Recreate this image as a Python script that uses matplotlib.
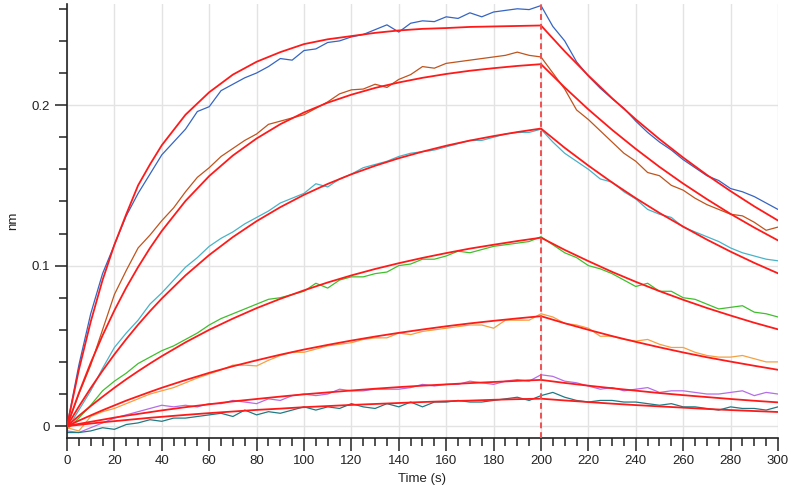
import matplotlib
matplotlib.use("Agg")
import matplotlib.pyplot as plt
from matplotlib.ticker import MultipleLocator

plt.rcParams["font.family"] = ["Liberation Sans Narrow", "Liberation Sans", "DejaVu Sans"]

# sampled time points (s)
time_data = list(range(0, 305, 5))
time_fit = [0, 5, 10, 15, 20, 25, 30, 35, 40] + list(range(50, 210, 10)) + list(range(210, 310, 10))

blue = [0.000, 0.038, 0.070, 0.095, 0.113, 0.131, 0.145, 0.157, 0.169, 0.177,
        0.185, 0.196, 0.199, 0.209, 0.213, 0.217, 0.220, 0.224, 0.229, 0.228,
        0.234, 0.235, 0.239, 0.240, 0.2425, 0.244, 0.247, 0.250, 0.2455, 0.251,
        0.2525, 0.252, 0.255, 0.254, 0.2575, 0.255, 0.258, 0.259, 0.260, 0.2595,
        0.262, 0.249, 0.240, 0.227, 0.218, 0.2105, 0.204, 0.198, 0.190, 0.183,
        0.177, 0.172, 0.166, 0.161, 0.156, 0.153, 0.148, 0.146, 0.143, 0.139,
        0.135]
brown = [0.000, 0.020, 0.038, 0.060, 0.082, 0.097, 0.111, 0.119, 0.128, 0.136,
         0.146, 0.155, 0.161, 0.168, 0.173, 0.178, 0.182, 0.188, 0.190, 0.192,
         0.194, 0.198, 0.202, 0.207, 0.2095, 0.210, 0.213, 0.211, 0.216, 0.219,
         0.224, 0.223, 0.226, 0.227, 0.228, 0.229, 0.230, 0.231, 0.233, 0.231,
         0.230, 0.220, 0.210, 0.197, 0.191, 0.184, 0.177, 0.170, 0.165, 0.158,
         0.156, 0.150, 0.147, 0.142, 0.138, 0.135, 0.132, 0.131, 0.127, 0.122,
         0.124]
cyan = [-0.002, 0.010, 0.022, 0.036, 0.049, 0.058, 0.066, 0.076, 0.083, 0.091,
        0.099, 0.105, 0.112, 0.117, 0.121, 0.126, 0.130, 0.134, 0.139, 0.142,
        0.145, 0.151, 0.149, 0.154, 0.157, 0.161, 0.163, 0.165, 0.168, 0.170,
        0.171, 0.172, 0.174, 0.176, 0.178, 0.178, 0.180, 0.182, 0.183, 0.183,
        0.185, 0.177, 0.170, 0.165, 0.160, 0.154, 0.152, 0.146, 0.1415, 0.135,
        0.132, 0.130, 0.124, 0.121, 0.118, 0.115, 0.111, 0.108, 0.106, 0.104,
        0.103]
green = [-0.002, 0.005, 0.013, 0.022, 0.028, 0.033, 0.039, 0.043, 0.047, 0.050,
         0.054, 0.058, 0.063, 0.067, 0.070, 0.073, 0.076, 0.079, 0.080, 0.082,
         0.084, 0.089, 0.086, 0.091, 0.093, 0.093, 0.095, 0.096, 0.100, 0.101,
         0.104, 0.104, 0.106, 0.109, 0.108, 0.110, 0.112, 0.113, 0.114, 0.115,
         0.118, 0.113, 0.108, 0.105, 0.100, 0.098, 0.095, 0.091, 0.087, 0.089,
         0.084, 0.084, 0.080, 0.079, 0.076, 0.073, 0.074, 0.075, 0.071, 0.070,
         0.068]
orange = [-0.001, -0.003, 0.006, 0.009, 0.011, 0.014, 0.017, 0.020, 0.022, 0.024,
          0.027, 0.030, 0.0325, 0.035, 0.038, 0.038, 0.0375, 0.041, 0.044, 0.046,
          0.046, 0.048, 0.050, 0.051, 0.052, 0.054, 0.055, 0.055, 0.058, 0.057,
          0.059, 0.060, 0.061, 0.062, 0.063, 0.063, 0.061, 0.066, 0.066, 0.066,
          0.070, 0.068, 0.064, 0.063, 0.061, 0.056, 0.056, 0.054, 0.053, 0.054,
          0.051, 0.049, 0.049, 0.046, 0.044, 0.043, 0.043, 0.044, 0.042, 0.040,
          0.040]
violet = [-0.003, -0.004, -0.001, 0.002, 0.005, 0.007, 0.009, 0.011, 0.013, 0.012,
          0.013, 0.012, 0.014, 0.014, 0.016, 0.015, 0.014, 0.017, 0.016, 0.019,
          0.020, 0.019, 0.020, 0.023, 0.022, 0.022, 0.023, 0.023, 0.023, 0.024,
          0.026, 0.025, 0.026, 0.026, 0.028, 0.027, 0.026, 0.028, 0.029, 0.028,
          0.032, 0.031, 0.028, 0.027, 0.025, 0.023, 0.024, 0.022, 0.023, 0.024,
          0.021, 0.022, 0.022, 0.021, 0.020, 0.020, 0.021, 0.022, 0.019, 0.021,
          0.020]
teal = [-0.004, -0.004, -0.003, -0.001, -0.002, 0.001, 0.002, 0.004, 0.003, 0.005,
        0.005, 0.006, 0.007, 0.008, 0.006, 0.010, 0.007, 0.009, 0.008, 0.010,
        0.012, 0.010, 0.012, 0.011, 0.014, 0.012, 0.011, 0.014, 0.012, 0.015,
        0.012, 0.015, 0.015, 0.016, 0.015, 0.015, 0.016, 0.017, 0.018, 0.016,
        0.019, 0.021, 0.018, 0.016, 0.015, 0.016, 0.016, 0.015, 0.015, 0.014,
        0.013, 0.014, 0.012, 0.012, 0.011, 0.010, 0.012, 0.011, 0.011, 0.010,
        0.012]

# fitted curves (red)
fit1 = [0.000, 0.035, 0.065, 0.091, 0.113, 0.132, 0.150, 0.163, 0.175,
        0.194, 0.208, 0.219, 0.227, 0.233, 0.238, 0.241, 0.243, 0.245, 0.2465,
        0.2475, 0.248, 0.2487, 0.249, 0.2493, 0.2496,
        0.2335, 0.2184, 0.2043, 0.1911, 0.1788, 0.1673, 0.1565, 0.1464, 0.1369, 0.1281]
fit2 = [0.000, 0.0206, 0.0394, 0.0565, 0.0721, 0.0863, 0.0991, 0.1109, 0.1216,
        0.1403, 0.1558, 0.1686, 0.1792, 0.1881, 0.1954, 0.2015, 0.2065, 0.2107, 0.2141,
        0.2170, 0.2194, 0.2214, 0.2230, 0.2244, 0.2255,
        0.2110, 0.1973, 0.1846, 0.1727, 0.1615, 0.1511, 0.1414, 0.1322, 0.1237, 0.1157]
fit3 = [0.000, 0.0122, 0.0237, 0.0345, 0.0447, 0.0542, 0.0632, 0.0716, 0.0795,
        0.0939, 0.1066, 0.1178, 0.1277, 0.1364, 0.1441, 0.1509, 0.1569, 0.1622, 0.1669,
        0.1710, 0.1747, 0.1779, 0.1807, 0.1832, 0.1854,
        0.1734, 0.1623, 0.1518, 0.1420, 0.1328, 0.1243, 0.1162, 0.1087, 0.1017, 0.0952]
fit4 = [0.000, 0.0064, 0.0125, 0.0183, 0.0239, 0.0292, 0.0342, 0.0390, 0.0436,
        0.0522, 0.0600, 0.0670, 0.0735, 0.0793, 0.0846, 0.0895, 0.0939, 0.0979, 0.1015,
        0.1048, 0.1078, 0.1106, 0.1130, 0.1153, 0.1174,
        0.1098, 0.1028, 0.0961, 0.0899, 0.0841, 0.0787, 0.0736, 0.0689, 0.0644, 0.0603]
fit5 = [0.000, 0.0034, 0.0067, 0.0099, 0.0129, 0.0159, 0.0186, 0.0213, 0.0239,
        0.0287, 0.0332, 0.0373, 0.0410, 0.0445, 0.0477, 0.0506, 0.0533, 0.0558, 0.0581,
        0.0602, 0.0622, 0.0640, 0.0656, 0.0671, 0.0685,
        0.0641, 0.0600, 0.0561, 0.0525, 0.0491, 0.0459, 0.0429, 0.0402, 0.0376, 0.0351]
fit6 = [0.000, 0.0014, 0.0027, 0.0040, 0.0053, 0.0065, 0.0076, 0.0087, 0.0098,
        0.0118, 0.0136, 0.0154, 0.0169, 0.0184, 0.0198, 0.0210, 0.0222, 0.0233, 0.0243,
        0.0252, 0.0260, 0.0268, 0.0275, 0.0282, 0.0288,
        0.0269, 0.0252, 0.0236, 0.0221, 0.0206, 0.0193, 0.0181, 0.0169, 0.0158, 0.0148]
fit7 = [0.000, 0.0008, 0.0016, 0.0024, 0.0031, 0.0038, 0.0045, 0.0052, 0.0058,
        0.0070, 0.0081, 0.0091, 0.0101, 0.0109, 0.0118, 0.0125, 0.0132, 0.0138, 0.0144,
        0.0150, 0.0155, 0.0159, 0.0164, 0.0168, 0.0171,
        0.0160, 0.0150, 0.0140, 0.0131, 0.0123, 0.0115, 0.0107, 0.0100, 0.0094, 0.0088]

traces = [blue, brown, cyan, green, orange, violet, teal]
trace_colors = ["#3565c3", "#c0541c", "#48b3c8", "#3fbf2c", "#f4a142", "#b46ee6", "#1f7a84"]
fits = [fit1, fit2, fit3, fit4, fit5, fit6, fit7]

fig = plt.figure(figsize=(7.92, 4.91), dpi=100)
ax = fig.add_axes([0.0846, 0.1086, 0.8977, 0.8833])

for y, c in zip(traces, trace_colors):
    ax.plot(time_data, y, color=c, lw=0.9, zorder=2)
for y in fits:
    ax.plot(time_fit, y, color="#ff1a1a", lw=1.3, zorder=3)

ax.axvline(200, color="#f05050", lw=1.4, ls=(0, (3, 2)), zorder=4)

ax.set_xlim(0, 300)
ax.set_ylim(-0.0072, 0.263)
ax.xaxis.set_major_locator(MultipleLocator(20))
ax.xaxis.set_minor_locator(MultipleLocator(5))
ax.yaxis.set_minor_locator(MultipleLocator(0.02))
ax.set_yticks([0, 0.1, 0.2])
ax.set_yticklabels(["0", "0.1", "0.2"])

ax.grid(True, which="major", color="#e3e3e3", lw=1.0, zorder=0)
for side in ("top", "right"):
    ax.spines[side].set_visible(False)
for side in ("left", "bottom"):
    ax.spines[side].set_color("#222222")
    ax.spines[side].set_linewidth(1.2)

ax.tick_params(which="major", length=9, width=1.1, color="#222222", labelsize=9.5, labelcolor="#222222")
ax.tick_params(which="minor", length=6, width=1.1, color="#222222")

ax.set_xlabel("Time (s)", fontsize=9.5, color="#222222", labelpad=4)
ax.set_ylabel("nm", fontsize=9.5, color="#222222")
ax.yaxis.set_label_coords(-0.068, 0.5)

fig.savefig("out.png", dpi=100)
